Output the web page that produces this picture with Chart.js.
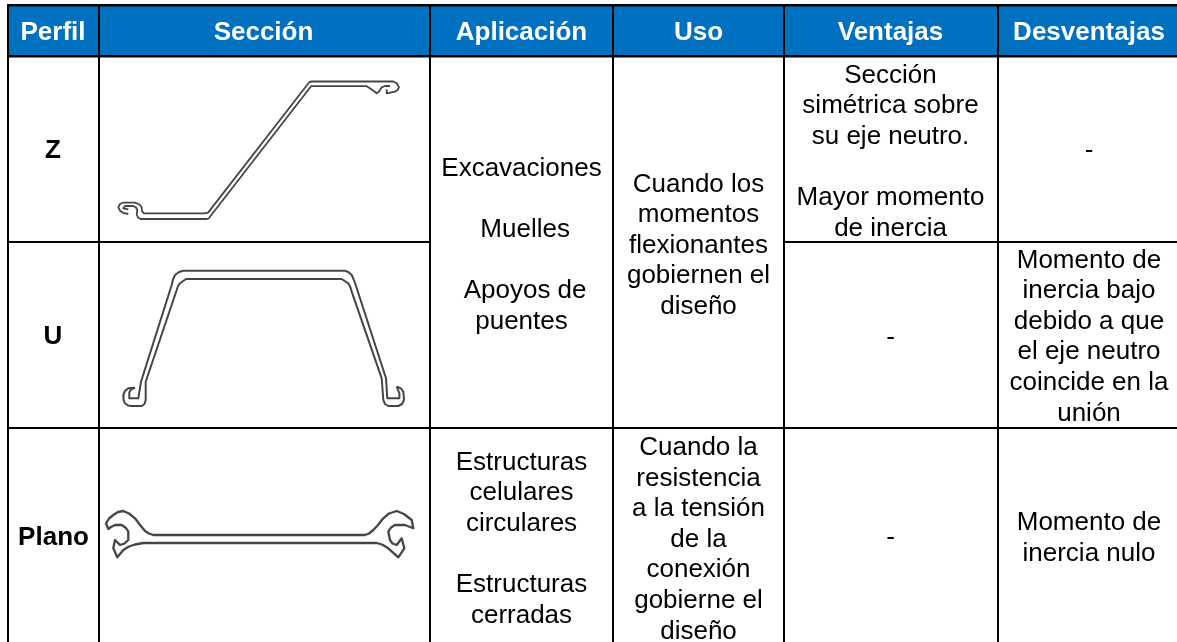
<!DOCTYPE html>
<html lang="es">
<head>
<meta charset="utf-8">
<title>Perfiles de tablestaca</title>
<style>
    html, body { margin: 0; padding: 0; background: #fff; }
    canvas { display: block; }
</style>
<script src="https://cdn.jsdelivr.net/npm/chart.js@4/dist/chart.umd.min.js"></script>
</head>
<body>
<canvas id="tabla" width="1177" height="642"></canvas>
<script>
// --- Textos de la tabla ---
const encabezados = ['Perfil', 'Sección', 'Aplicación', 'Uso', 'Ventajas', 'Desventajas'];
const perfiles = ['Z', 'U', 'Plano'];
const aplicacionZU = ['Excavaciones', '', ' Muelles', '', ' Apoyos de', 'puentes'];
const aplicacionPlano = ['Estructuras', 'celulares', 'circulares', '', 'Estructuras', 'cerradas'];
const usoZU = ['Cuando los', 'momentos', 'flexionantes', 'gobiernen el', 'diseño'];
const usoPlano = ['Cuando la', 'resistencia', 'a la tensión', 'de la', 'conexión', 'gobierne el', 'diseño'];
const ventajasZ = ['Sección', 'simétrica sobre', 'su eje neutro.', '', 'Mayor momento', 'de inercia'];
const ventajasU = ['-'];
const ventajasPlano = ['-'];
const desventajasZ = ['-'];
const desventajasU = ['Momento de', 'inercia bajo', 'debido a que', 'el eje neutro', 'coincide en la', 'unión'];
const desventajasPlano = ['Momento de', 'inercia nulo'];

// --- Secciones (x, y en unidades de los ejes) ---
const seccionZ_a = [[128.3,214],[123,212.8],[120,210.7],[118.3,207.3],[120,204],[122.7,202.7],[135,202.7],[139.5,204.5],[141.7,207.3],[142,211],[144,213.3],[204,213.3],[208.1,212.6],[309.4,82],[311.7,81.5],[393.3,81.5],[397,83.5],[399,87.3],[397.5,90],[395,91.7],[386.7,93.3],[386.7,89.3]];
const seccionZ_b = [[128.3,209.3],[123.3,208.3],[125,206],[133.3,206],[136,207.5],[137.3,210],[136.7,214.5],[138,217.5],[140.5,219],[206.7,219],[208.6,218.5],[311.1,86.2],[366.7,86.2],[371,89],[376.7,93.3],[379,91.5],[381.7,87.3],[385,86],[390,86]];
const seccionU_a = [[135,387.7],[128.3,388.3],[125,391],[123.3,395],[123.5,400],[125,403.3],[128,405.5],[131.7,406],[141.7,406],[144.5,404],[145.7,400],[145.7,381.7],[176.7,290],[178,286],[180,283.3],[186,279],[341.7,279],[348.3,283.3],[350.5,287.5],[351.7,291.7],[381.7,378.3],[383.3,400],[385,404],[388.3,406],[398.3,406],[402,404],[404,400],[403.3,391.7],[401,388.5],[396.7,386.7]];
const seccionU_b = [[135,387.7],[131,389.5],[129.3,392.3],[129.3,398.3],[138.3,398.3],[141,381.7],[171.7,285],[173,279.5],[175,275],[179,272],[183.3,270.7],[345,270.7],[349,272.5],[351.7,275],[353.7,279.5],[355.7,285],[386,378.3],[387.3,398.3],[399,398.3],[399.8,396],[399,393.3],[396.7,386.7]];
const seccionPlano = [[157,535],[153.3,535],[149,533.5],[145,531],[140,525],[135,518.3],[129,513.5],[123.3,511],[118,512],[113.3,515],[109,518.5],[106,523.3],[108.3,529],[111,527],[115,525],[121.7,525],[126,528],[128.3,531.7],[128.3,540],[124.5,543.5],[120,545],[115,540],[113.3,548.3],[117.3,557.3],[123.3,550],[129,546.5],[135,544.5],[143.3,543],[147,543],[151,543],[369,543],[373,543],[376.7,543],[382,544.5],[388.3,548.3],[398.3,557.3],[404.3,548.3],[401.7,538.3],[396.7,545],[392.5,543.5],[390,540],[388.3,531.7],[391,527.5],[395,525],[405,525],[413.3,528.3],[411.7,520],[404,514],[396.7,511],[389,513.5],[383.3,518.3],[378,525],[373.3,530],[369,533.5],[365,535],[361,535],[157,535]];

// --- Retícula ---
const ANCHO = 1177;
const ALTO = 642;
const columnas = [8, 99, 430, 613, 784, 998];
const filas = [5.3, 56.3, 242, 428];
const INTERLINEA = 30.6;
const azulEncabezado = '#0070C0';
const grisSeccion = '#454545';

// Cada bloque de texto: líneas, centro en x y primera línea base
const bloques = [
    { lineas: [encabezados[0]], x: 53, y: 40, color: '#fff', negrita: true },
    { lineas: [encabezados[1]], x: 263.5, y: 40, color: '#fff', negrita: true },
    { lineas: [encabezados[2]], x: 521.5, y: 40, color: '#fff', negrita: true },
    { lineas: [encabezados[3]], x: 698.5, y: 40, color: '#fff', negrita: true },
    { lineas: [encabezados[4]], x: 890.5, y: 40, color: '#fff', negrita: true },
    { lineas: [encabezados[5]], x: 1089, y: 40, color: '#fff', negrita: true },
    { lineas: [perfiles[0]], x: 53, y: 158, negrita: true },
    { lineas: [perfiles[1]], x: 53, y: 343.5, negrita: true },
    { lineas: [perfiles[2]], x: 53.5, y: 544.5, negrita: true },
    { lineas: aplicacionZU, x: 521.5, y: 176 },
    { lineas: aplicacionPlano, x: 521.5, y: 469.5 },
    { lineas: usoZU, x: 698.5, y: 191.5 },
    { lineas: usoPlano, x: 698.5, y: 455 },
    { lineas: ventajasZ, x: 890.5, y: 82.5 },
    { lineas: ventajasU, x: 890.5, y: 344.5 },
    { lineas: ventajasPlano, x: 890.5, y: 544.5 },
    { lineas: desventajasZ, x: 1089, y: 158 },
    { lineas: desventajasU, x: 1089, y: 267.5 },
    { lineas: desventajasPlano, x: 1089, y: 530 }
];

function aPuntos(lista) {
    return lista.map(p => ({ x: p[0], y: p[1] }));
}

function regla(puntos, grosor) {
    return { data: puntos, showLine: true, borderColor: '#000', borderWidth: grosor, pointRadius: 0, tension: 0, clip: false };
}

function seccion(lista, grosor) {
    return { data: aPuntos(lista), showLine: true, borderColor: grisSeccion, borderWidth: grosor, pointRadius: 0, tension: 0, borderJoinStyle: 'round', difuso: true, clip: false };
}

const conjuntos = [];
// Reglas verticales
columnas.forEach(x => conjuntos.push(regla([{ x, y: filas[0] - 1.3 }, { x, y: ALTO }], 2)));
// Reglas horizontales (la fila Z/U no cruza Aplicación y Uso, celdas combinadas)
conjuntos.push(regla([{ x: columnas[0] - 1, y: filas[0] }, { x: ANCHO, y: filas[0] }], 2.6));
conjuntos.push(regla([{ x: columnas[0] - 1, y: filas[1] }, { x: ANCHO, y: filas[1] }], 2.6));
conjuntos.push(regla([{ x: columnas[0], y: filas[2] }, { x: columnas[2], y: filas[2] }], 2));
conjuntos.push(regla([{ x: columnas[4], y: filas[2] }, { x: ANCHO, y: filas[2] }], 2));
conjuntos.push(regla([{ x: columnas[0], y: filas[3] }, { x: ANCHO, y: filas[3] }], 2));
// Secciones
conjuntos.push(seccion(seccionZ_a, 1.8), seccion(seccionZ_b, 1.8));
conjuntos.push(seccion(seccionU_a, 2), seccion(seccionU_b, 2));
conjuntos.push(seccion(seccionPlano, 2.3));

// --- Plugin: fondo, encabezado y textos ---
const pluginTabla = {
    id: 'tabla',
    beforeDatasetsDraw(chart) {
        const { ctx, scales: { x, y } } = chart;
        ctx.save();
        ctx.fillStyle = '#fff';
        ctx.fillRect(0, 0, ANCHO, ALTO);
        ctx.fillStyle = azulEncabezado;
        ctx.fillRect(x.getPixelForValue(columnas[0]), y.getPixelForValue(filas[0]), x.getPixelForValue(ANCHO) - x.getPixelForValue(columnas[0]), y.getPixelForValue(filas[1]) - y.getPixelForValue(filas[0]));
        ctx.restore();
    },
    beforeDatasetDraw(chart, args) {
        if (chart.data.datasets[args.index].difuso) {
            chart.ctx.save();
            chart.ctx.filter = 'blur(0.6px)';
        }
    },
    afterDatasetDraw(chart, args) {
        if (chart.data.datasets[args.index].difuso) {
            chart.ctx.restore();
        }
    },
    afterDatasetsDraw(chart) {
        const { ctx, scales: { x, y } } = chart;
        ctx.save();
        ctx.textAlign = 'center';
        ctx.textBaseline = 'alphabetic';
        bloques.forEach(b => {
            ctx.font = (b.negrita ? 'bold ' : '') + '26px "Liberation Sans", Arial, sans-serif';
            ctx.fillStyle = b.color || '#000';
            b.lineas.forEach((linea, i) => {
                if (linea) ctx.fillText(linea, x.getPixelForValue(b.x), y.getPixelForValue(b.y + i * INTERLINEA));
            });
        });
        ctx.restore();
    }
};

new Chart(document.getElementById('tabla').getContext('2d'), {
    type: 'scatter',
    data: { datasets: conjuntos },
    plugins: [pluginTabla],
    options: {
        responsive: false,
        animation: false,
        devicePixelRatio: 1,
        layout: { padding: 0 },
        plugins: { legend: { display: false }, tooltip: { enabled: false }, title: { display: false } },
        scales: {
            x: { type: 'linear', min: 0, max: ANCHO, display: false },
            y: { type: 'linear', min: 0, max: ALTO, reverse: true, display: false }
        }
    }
});
</script>
</body>
</html>
